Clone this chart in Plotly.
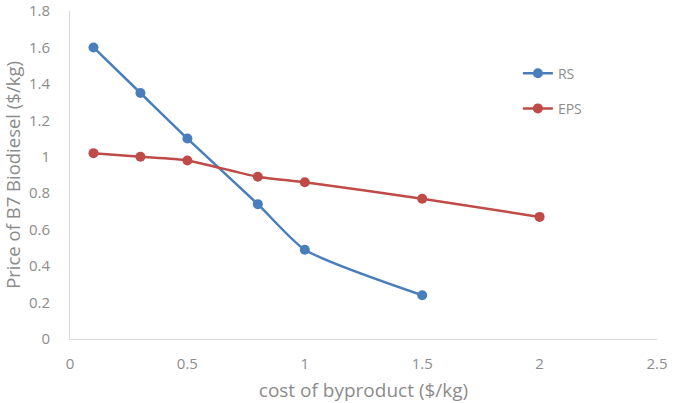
import plotly.graph_objects as go

rs_x = [0.1, 0.3, 0.5, 0.8, 1.0, 1.5]
rs_y = [1.60, 1.35, 1.10, 0.74, 0.49, 0.24]
eps_x = [0.1, 0.3, 0.5, 0.8, 1.0, 1.5, 2.0]
eps_y = [1.02, 1.00, 0.98, 0.89, 0.86, 0.77, 0.67]
x_ticks = [0, 0.5, 1, 1.5, 2, 2.5]
y_ticks = [0, 0.2, 0.4, 0.6, 0.8, 1, 1.2, 1.4, 1.6, 1.8]

FONT = "Open Sans"
GRAY = "#8c8c8c"

fig = go.Figure()
fig.add_trace(go.Scatter(x=rs_x, y=rs_y, name="RS", mode="lines+markers",
                         line=dict(color="#4a7ebb", width=2.5, shape="spline", smoothing=0.6),
                         marker=dict(size=10, color="#4a7ebb"), legendgroup="a"))
fig.add_trace(go.Scatter(x=eps_x, y=eps_y, name="EPS", mode="lines+markers",
                         line=dict(color="#be4b48", width=2.5, shape="spline", smoothing=0.6),
                         marker=dict(size=10, color="#be4b48"), legendgroup="b"))

fig.update_layout(
    width=692, height=403,
    margin=dict(l=70, r=35, t=11, b=64),
    paper_bgcolor="white", plot_bgcolor="white",
    font=dict(family=FONT, color=GRAY, size=15),
    legend=dict(x=0.763, y=0.858, xanchor="left", yanchor="top",
                font=dict(size=14, color=GRAY), tracegroupgap=14,
                bgcolor="rgba(0,0,0,0)"),
    xaxis=dict(range=[0, 2.5], tickvals=x_ticks, ticktext=[f"{v:g}" for v in x_ticks],
               showgrid=False, zeroline=False, tickfont=dict(size=15, color=GRAY),
               showline=True, linecolor="#d9d9d9", linewidth=1, automargin=False,
               ticks="", ticklabelstandoff=11, ticklabeloverflow="allow",
               title=dict(text="cost of byproduct ($/kg)", font=dict(size=19, color=GRAY), standoff=18)),
    yaxis=dict(range=[0, 1.8], tickvals=y_ticks, ticktext=[f"{v:g}" for v in y_ticks],
               showgrid=False, zeroline=False, tickfont=dict(size=15, color=GRAY),
               showline=True, linecolor="#d9d9d9", linewidth=1, automargin=False,
               ticks="", ticklabelstandoff=16, ticklabeloverflow="allow",
               title=dict(text="Price of B7 Biodiesel ($/kg)", font=dict(size=18.5, color=GRAY), standoff=8)),
)

fig.write_html("out.html")
